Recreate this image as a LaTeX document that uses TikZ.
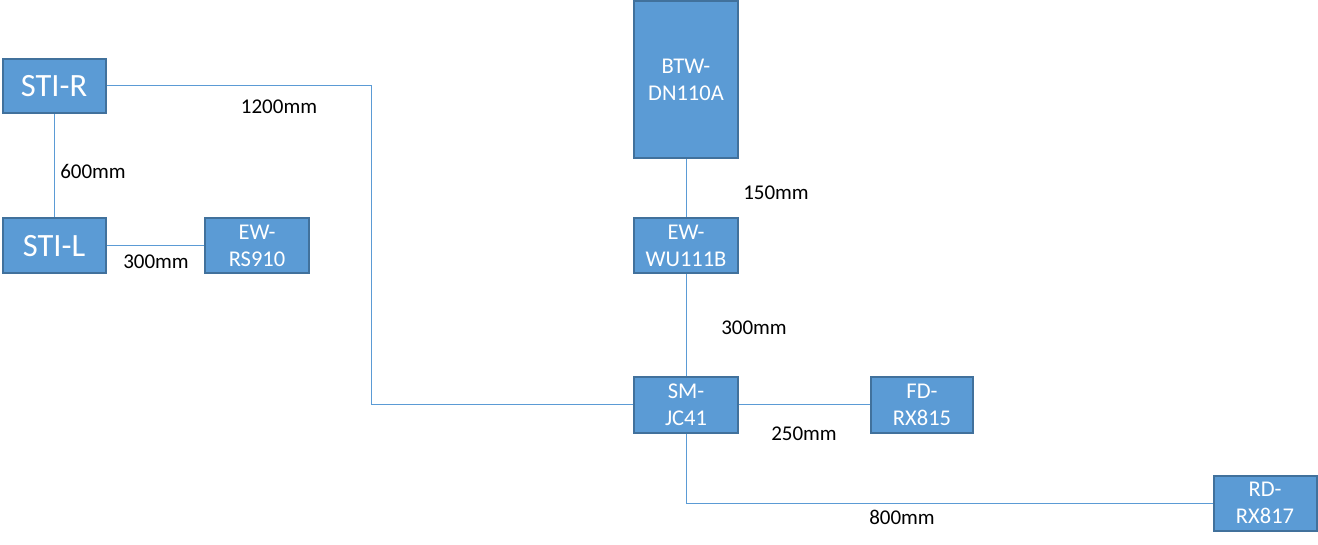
\documentclass[tikz,border=0pt]{standalone}
\usepackage{fontspec}
\setmainfont{Carlito}
\definecolor{boxfill}{HTML}{5B9BD5}
\definecolor{boxedge}{HTML}{41719C}
\definecolor{wire}{HTML}{5B9BD5}
\tikzset{
  dev/.style={draw=boxedge, fill=boxfill, line width=2pt, inner sep=0pt, text=white,
    align=center, font=\fontsize{22.5}{27}\selectfont},
  bigdev/.style={dev, font=\fontsize{32.5}{38}\selectfont},
  conn/.style={draw=wire, line width=1pt},
  lbl/.style={inner sep=0pt, text=black, font=\fontsize{21}{25}\selectfont}
}
\begin{document}
\begin{tikzpicture}[x=1pt,y=-1pt]
\useasboundingbox (0,0) rectangle (1318,545);
% devices
\node[bigdev, minimum width=103pt, minimum height=54pt] (stir) at (54,86) {STI-R};
\node[bigdev, minimum width=103pt, minimum height=55pt] (stil) at (54,246) {STI-L};
\node[dev, minimum width=104pt, minimum height=55pt] (ewrs) at (257,246) {EW-\\RS910};
\node[dev, minimum width=104pt, minimum height=157pt] (btw) at (686,80) {BTW-\\DN110A};
\node[dev, minimum width=104pt, minimum height=55pt] (ewwu) at (686,246) {EW-\\WU111B};
\node[dev, minimum width=104pt, minimum height=55pt] (smjc) at (686,405) {SM-\\JC41};
\node[dev, minimum width=102pt, minimum height=55pt] (fdrx) at (922,405) {FD-\\RX815};
\node[dev, minimum width=103pt, minimum height=55pt] (rdrx) at (1265,503) {RD-\\RX817};
\coordinate (bend) at (371,405);
% connectors
\draw[conn] (stir.east) -| (bend) -- (smjc.west);
\draw[conn] (stir.south) -- (stil.north);
\draw[conn] (stil.east) -- (ewrs.west);
\draw[conn] (btw.south) -- (ewwu.north);
\draw[conn] (ewwu.south) -- (smjc.north);
\draw[conn] (smjc.east) -- (fdrx.west);
\draw[conn] (smjc.south) |- (rdrx.west);
% labels
\node[lbl] (l1200) at (279,107) {1200mm};
\node[lbl] (l600) at (93,171) {600mm};
\node[lbl] (l300a) at (156,262) {300mm};
\node[lbl] (l150) at (776,193) {150mm};
\node[lbl] (l300b) at (754,328) {300mm};
\node[lbl] (l250) at (804,434) {250mm};
\node[lbl] (l800) at (902,517) {800mm};
\end{tikzpicture}
\end{document}
